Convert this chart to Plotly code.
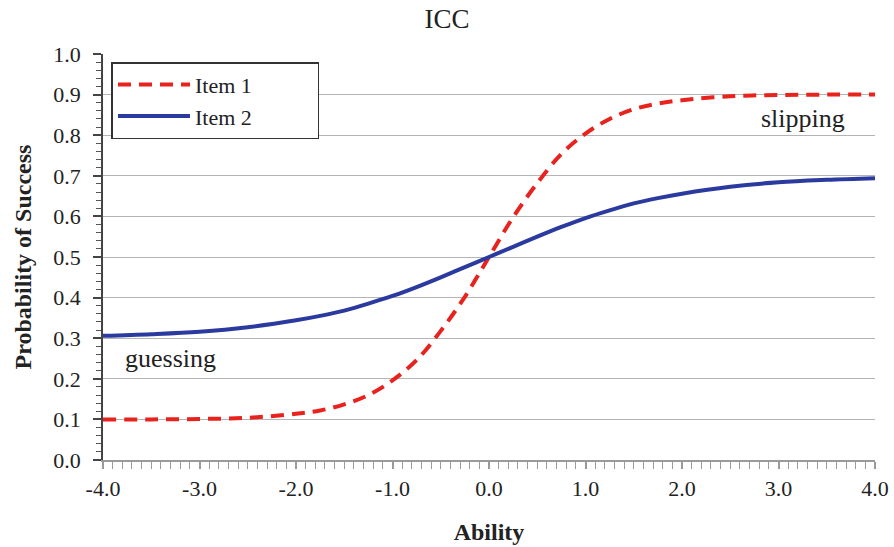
import plotly.graph_objects as go

ability = [-4.0, -3.5, -3.0, -2.5, -2.0, -1.75, -1.5, -1.25, -1.0, -0.75, -0.5, -0.25,
           0.0, 0.25, 0.5, 0.75, 1.0, 1.25, 1.5, 1.75, 2.0, 2.5, 3.0, 3.5, 4.0]
item1 = [0.100, 0.100, 0.101, 0.104, 0.114, 0.122, 0.137, 0.160, 0.196, 0.246, 0.318, 0.402,
         0.500, 0.598, 0.682, 0.754, 0.804, 0.840, 0.864, 0.878, 0.886, 0.896, 0.899, 0.900, 0.900]
item2 = [0.306, 0.310, 0.316, 0.327, 0.344, 0.355, 0.368, 0.385, 0.404, 0.426, 0.450, 0.475,
         0.500, 0.525, 0.550, 0.574, 0.596, 0.615, 0.632, 0.645, 0.656, 0.673, 0.684, 0.690, 0.694]

x_ticks = [-4.0, -3.0, -2.0, -1.0, 0.0, 1.0, 2.0, 3.0, 4.0]
x_ticktext = ["-4.0", "-3.0", "-2.0", "-1.0", "0.0", "1.0", "2.0", "3.0", "4.0"]
y_ticks = [0.0, 0.1, 0.2, 0.3, 0.4, 0.5, 0.6, 0.7, 0.8, 0.9, 1.0]

FONT = "Liberation Serif, Times New Roman, serif"
TXT = "#222222"
PAD = "\u00a0" * 11

fig = go.Figure()
fig.add_trace(go.Scatter(x=ability, y=item1, mode="lines", name="Item 1" + PAD,
                         line=dict(color="#E8231E", width=4, dash="13px,8px", shape="spline")))
fig.add_trace(go.Scatter(x=ability, y=item2, mode="lines", name="Item 2" + PAD,
                         line=dict(color="#2B3A9E", width=4, shape="spline")))

fig.update_layout(
    width=894, height=547,
    margin=dict(l=103, r=19, t=54, b=87, autoexpand=False),
    paper_bgcolor="white", plot_bgcolor="white",
    font=dict(family=FONT, size=22, color=TXT),
    title=dict(text="ICC", x=0.5, xref="container", xanchor="center",
               y=0.967, yref="container", yanchor="middle",
               font=dict(family=FONT, size=27, color=TXT)),
    showlegend=True,
    legend=dict(x=0.011, y=0.98, xanchor="left", yanchor="top",
                bordercolor="#333333", borderwidth=1.5, bgcolor="white",
                font=dict(family=FONT, size=22, color=TXT),
                tracegroupgap=0, itemwidth=72),
    xaxis=dict(range=[-4, 4], tickvals=x_ticks, ticktext=x_ticktext,
               showgrid=False, zeroline=False,
               showline=True, linecolor="#9a9a9a", linewidth=1.5,
               ticks="outside", ticklen=7, tickcolor="#9a9a9a", tickwidth=1.5,
               ticklabelstandoff=1,
               minor=dict(dtick=0.1, ticks="outside", ticklen=7, tickcolor="#9a9a9a", tickwidth=1.2),
               title=dict(text="<b>Ability</b>", standoff=23,
                          font=dict(family=FONT, size=24, color=TXT)),
               tickfont=dict(family=FONT, size=22, color=TXT)),
    yaxis=dict(range=[0, 1], tickvals=y_ticks, tickformat=".1f",
               showgrid=True, gridcolor="#b4b4b4", gridwidth=1.2, zeroline=False,
               showline=True, linecolor="#444444", linewidth=1.5,
               ticks="outside", ticklen=8, tickcolor="#444444", tickwidth=1.5,
               ticklabelstandoff=8,
               minor=dict(dtick=0.02, ticks="outside", ticklen=5, tickcolor="#555555", tickwidth=1, showgrid=False),
               title=dict(text="<b>Probability of Success</b>", standoff=15,
                          font=dict(family=FONT, size=24, color=TXT)),
               tickfont=dict(family=FONT, size=22, color=TXT)),
)

fig.add_annotation(x=-3.3, y=0.25, xref="x", yref="y", text="guessing", showarrow=False,
                   font=dict(family=FONT, size=26, color=TXT))
fig.add_annotation(x=3.25, y=0.84, xref="x", yref="y", text="slipping", showarrow=False,
                   font=dict(family=FONT, size=26, color=TXT))

fig.write_html("out.html", config={"displayModeBar": False})

with open("out.html", "r", encoding="utf-8") as f:
    html = f.read()
html = html.replace("<body>", '<body style="margin:0;padding:0;overflow:hidden">', 1)
with open("out.html", "w", encoding="utf-8") as f:
    f.write(html)
